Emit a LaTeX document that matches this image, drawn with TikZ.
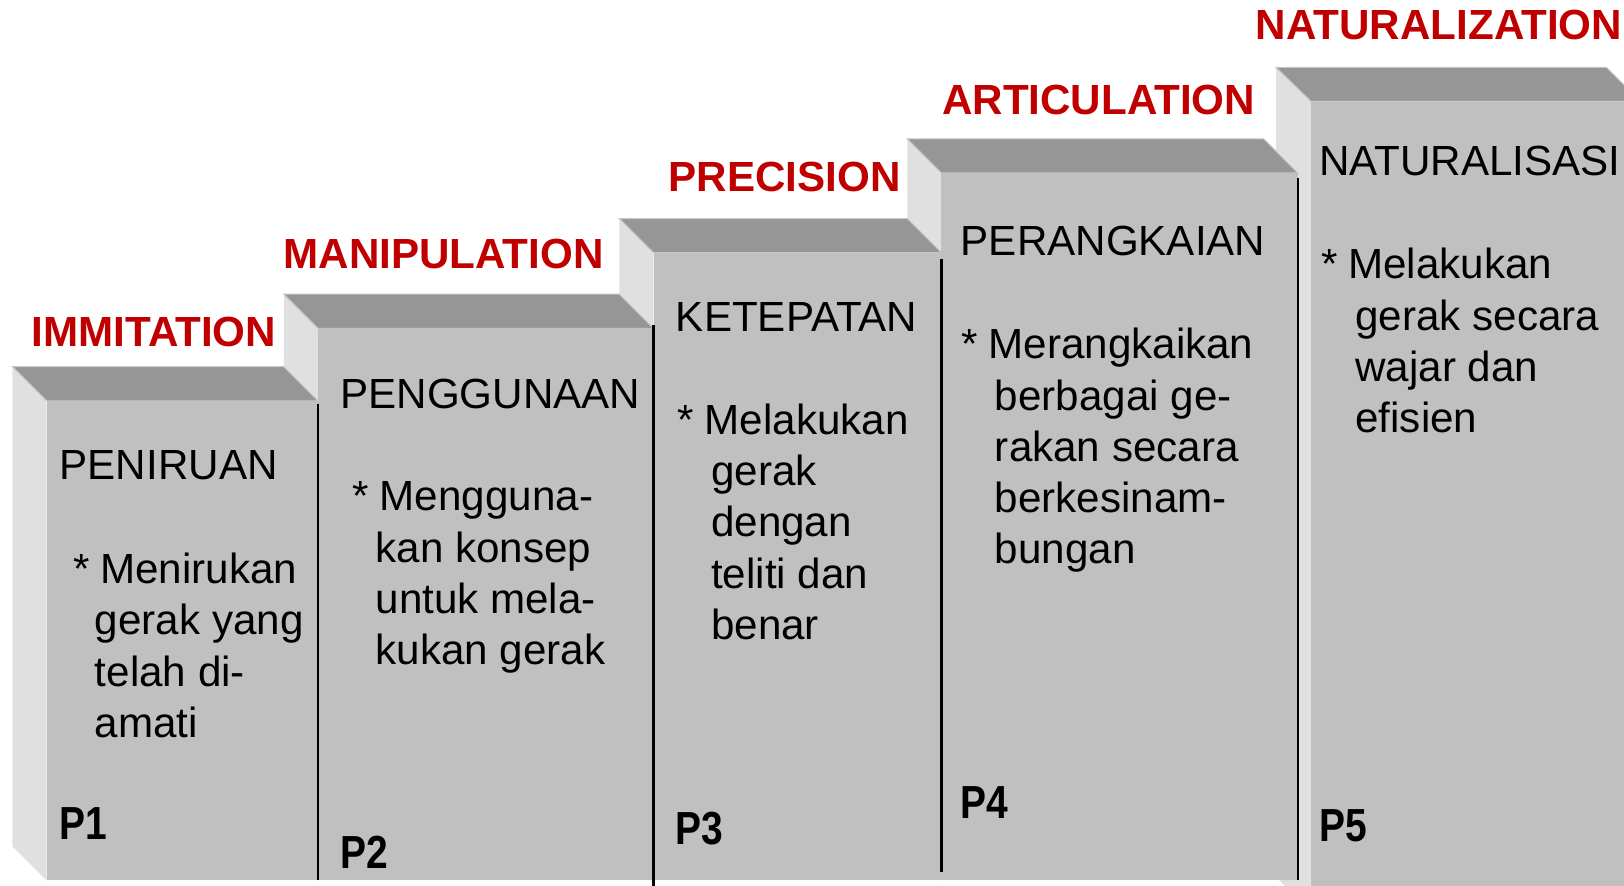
\documentclass[tikz,border=0pt]{standalone}
\usepackage{fontspec}
\setmainfont{Liberation Sans}
\newfontfamily\pfont[FakeStretch=0.84]{Liberation Sans}
\definecolor{stepred}{HTML}{C00000}
\definecolor{frontgray}{HTML}{C0C0C0}
\definecolor{topgray}{HTML}{969696}
\definecolor{sidegray}{HTML}{E0E0E0}
% first line of a description: star hanging to the left
\newcommand{\itm}[1]{\hspace*{#1}\strut\llap{*\hspace{3pt}}}
\tikzset{
  frontface/.style={fill=frontgray},
  topface/.style={fill=topgray, draw=black!22, line width=0.3pt},
  sideface/.style={fill=sidegray},
  rim/.style={black, line width=0.6pt},
  engname/.style={text=stepred, font=\fontsize{12}{14}\selectfont\bfseries, anchor=west, inner sep=0pt},
  stagename/.style={font=\fontsize{12}{14.6}\selectfont, anchor=west, inner sep=0pt},
  desc/.style={font=\fontsize{12}{14.6}\selectfont, align=left, anchor=north west, inner sep=0pt},
  plabel/.style={font=\fontsize{13.2}{15}\selectfont\pfont\bfseries, anchor=west, inner sep=0pt}
}
\begin{document}
\begin{tikzpicture}[x=0.010357cm, y=-0.010357cm]
    \useasboundingbox (0,0) rectangle (1568,855);
    \clip (0,0) rectangle (1568,855);

    % P5
    \fill[sideface] (1232,65) -- (1266,98) -- (1266,880) -- (1232,847) -- cycle;
    \filldraw[topface] (1232,65) -- (1551,65) -- (1584,98) -- (1266,98) -- cycle;
    \fill[frontface] (1266,98) rectangle (1584,880);

    % P4
    \fill[sideface] (876,134) -- (909,167) -- (909,850) -- (876,817) -- cycle;
    \filldraw[topface] (876,134) -- (1220,134) -- (1253,167) -- (909,167) -- cycle;
    \fill[frontface] (909,167) rectangle (1253,850);
    \draw[rim] (1253,172) -- (1253,850);

    % P3
    \fill[sideface] (598,211) -- (631,244) -- (631,850) -- (598,817) -- cycle;
    \filldraw[topface] (598,211) -- (876,211) -- (909,244) -- (631,244) -- cycle;
    \fill[frontface] (631,244) rectangle (909,850);
    \draw[rim] (909,250) -- (909,842);

    % P2
    \fill[sideface] (274,284) -- (307,317) -- (307,850) -- (274,817) -- cycle;
    \filldraw[topface] (274,284) -- (598,284) -- (631,317) -- (307,317) -- cycle;
    \fill[frontface] (307,317) rectangle (631,850);
    \draw[rim] (631,314) -- (631,855);

    % P1
    \fill[sideface] (12,354) -- (45,387) -- (45,850) -- (12,817) -- cycle;
    \filldraw[topface] (12,354) -- (274,354) -- (307,387) -- (45,387) -- cycle;
    \fill[frontface] (45,387) rectangle (307,850);
    \draw[rim] (307,390) -- (307,850);

    % level names
    \node[engname] (imit) at (30,321) {IMMITATION};
    \node[engname] (manip) at (273,245) {MANIPULATION};
    \node[engname] (prec) at (645,171) {PRECISION};
    \node[engname] (artic) at (909,97) {ARTICULATION};
    \node[engname] (natur) at (1212,24) {NATURALIZATION};

    \node[stagename] (peniruan) at (57,449) {PENIRUAN};
    \node[stagename] (penggunaan) at (328,380) {PENGGUNAAN};
    \node[stagename] (ketepatan) at (652,306) {KETEPATAN};
    \node[stagename] (perangkaian) at (927,233) {PERANGKAIAN};
    \node[stagename] (naturalisasi) at (1273,155) {NATURALISASI};

    \node[desc] (desc1) at (91,528) {\itm{1.5pt}Menirukan\\gerak yang\\telah di-\\amati};
    \node[desc] (desc2) at (362,458) {\itm{1.2pt}Mengguna-\\kan konsep\\untuk mela-\\kukan gerak};
    \node[desc] (desc3) at (686,384) {\itm{-1.8pt}Melakukan\\gerak\\dengan\\teliti dan\\benar};
    \node[desc] (desc4) at (960,311) {\itm{-1.8pt}Merangkaikan\\berbagai ge-\\rakan secara\\berkesinam-\\bungan};
    \node[desc] (desc5) at (1308,234) {\itm{-2pt}Melakukan\\gerak secara\\wajar dan\\efisien};

    \node[plabel] (p1) at (57,795) {P1};
    \node[plabel] (p2) at (328,823) {P2};
    \node[plabel] (p3) at (652,800) {P3};
    \node[plabel] (p4) at (927,775) {P4};
    \node[plabel] (p5) at (1273,797) {P5};

\end{tikzpicture}
\end{document}
